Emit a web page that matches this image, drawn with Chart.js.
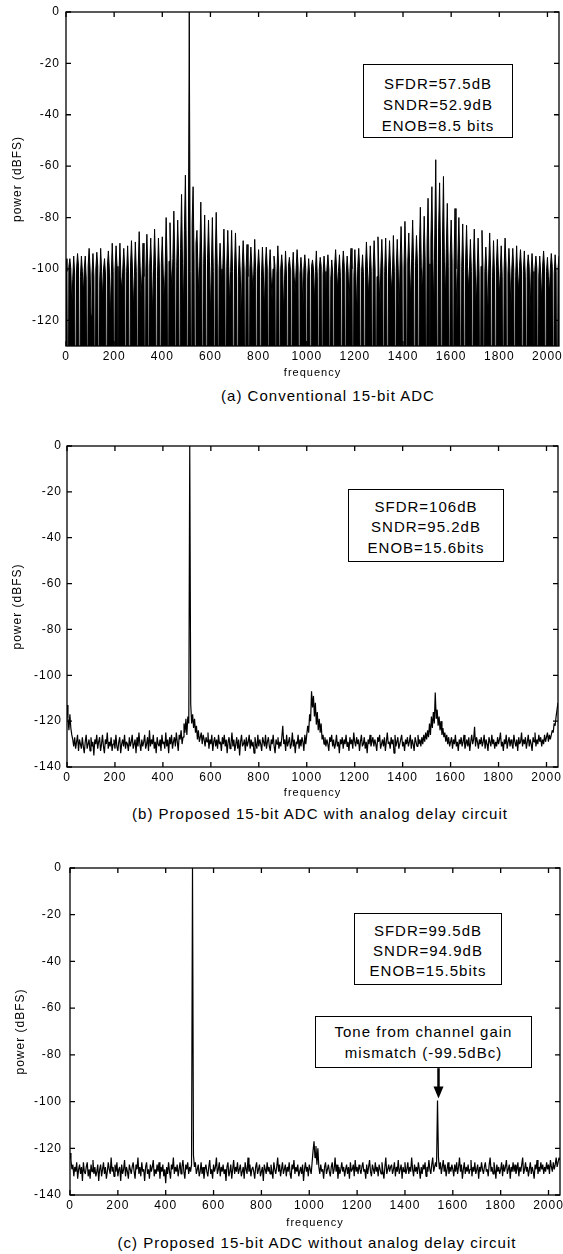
<!DOCTYPE html>
<html>
<head>
<meta charset="utf-8">
<script src="https://cdn.jsdelivr.net/npm/chart.js@4.4.1/dist/chart.umd.min.js"></script>
<style>
  body { margin: 0; background: #fff; color: #000; font-family: "Liberation Sans", Arial, Helvetica, sans-serif; }
  #page { position: relative; width: 563px; height: 1254px; overflow: hidden; background: #fff; }
  canvas { position: absolute; left: 0; }
  .box { position: absolute; box-sizing: border-box; border: 1px solid #000; background: #fff; text-align: center; font-size: 15px; letter-spacing: 1px; white-space: nowrap; }
  .caption { position: absolute; transform: translate(-50%, -50%); font-size: 15px; letter-spacing: 1px; white-space: nowrap; }
</style>
</head>
<body>
<div id="page">
  <canvas id="chartA" width="563" height="380" style="top:0px"></canvas>
  <canvas id="chartB" width="563" height="370" style="top:430px"></canvas>
  <canvas id="chartC" width="563" height="380" style="top:850px"></canvas>

  <div class="box" style="left:363px;top:64px;width:150px;height:74px;padding-top:8px;line-height:21px">SFDR=57.5dB<br>SNDR=52.9dB<br>ENOB=8.5 bits</div>
  <div class="box" style="left:348px;top:489px;width:156px;height:73px;padding-top:6.5px;line-height:20.5px">SFDR=106dB<br>SNDR=95.2dB<br>ENOB=15.6bits</div>
  <div class="box" style="left:354px;top:913px;width:148px;height:72px;padding-top:7px;line-height:19.8px">SFDR=99.5dB<br>SNDR=94.9dB<br>ENOB=15.5bits</div>
  <div class="box" style="left:315px;top:1016px;width:217px;height:52px;padding-top:5.4px;line-height:20.6px">Tone from channel gain<br>mismatch (-99.5dBc)</div>

  <div class="caption" style="left:328px;top:395px">(a) Conventional 15-bit ADC</div>
  <div class="caption" style="left:320px;top:813px">(b) Proposed 15-bit ADC with analog delay circuit</div>
  <div class="caption" style="left:317px;top:1242px">(c) Proposed 15-bit ADC without analog delay circuit</div>
</div>
<script>
// FFT bins are read every 4 frequency units, 0..2048
const binStep = 4;
const freqTicks = [0, 200, 400, 600, 800, 1000, 1200, 1400, 1600, 1800, 2000];
const powerTicksA = [0, -20, -40, -60, -80, -100, -120];
const powerTicksBC = [0, -20, -40, -60, -80, -100, -120, -140];

// (a) conventional ADC, dBFS (values below -130 fall off the axis)
const powerA = [
  -96,-101,-200,-99, -96,-100,-115,-104, -95,-102,-200,-100, -94,-99,-200,-103,
  -95,-101,-110,-100, -95,-104,-200,-99, -92,-100,-118,-102, -94,-103,-200,-100,
  -93.5,-99,-200,-105, -92,-101,-112,-100, -96,-102,-200,-99, -93,-100,-120,-103,
  -90,-101,-200,-100, -91,-99,-200,-102, -90,-103,-109,-100, -92,-100,-200,-101,
  -91,-102,-200,-99, -89,-100,-116,-103, -89.5,-101,-200,-100, -85.5,-99,-111,-102,
  -90,-103,-200,-100, -86.5,-100,-200,-98, -88,-101,-119,-100, -84.5,-99,-200,-103,
  -88,-100,-200,-98, -87.5,-102,-113,-100, -80,-98,-200,-97, -82,-100,-108,-96,
  -77.5,-97,-200,-99, -81,-96,-200,-92, -71,-98,-117,-85, -63.5,-95,-200,-100,
  0,-101,-200,-82, -68,-96,-200,-90, -85,-99,-112,-95, -74,-97,-200,-98,
  -79,-100,-200,-96, -81,-97,-119,-99, -80,-101,-200,-97, -78,-98,-200,-100,
  -90,-100,-110,-98, -84.5,-102,-200,-99, -85,-99,-115,-101, -85,-101,-200,-100,
  -86,-100,-200,-103, -91,-102,-121,-99, -89,-100,-200,-101, -90.5,-103,-200,-100,
  -91.5,-99,-109,-102, -88.5,-101,-200,-100, -92.5,-100,-200,-103, -91.5,-102,-117,-99,
  -91.5,-100,-200,-101, -92.5,-103,-112,-100, -95,-99,-200,-102, -91,-101,-200,-100,
  -94.5,-100,-118,-104, -93,-102,-200,-99, -95.5,-100,-200,-101, -93.5,-103,-110,-100,
  -92.5,-99,-200,-102, -95.5,-101,-116,-100, -94.5,-100,-200,-103, -96,-102,-200,-99,
  -96.5,-100,-113,-101, -93,-103,-200,-100, -95.5,-99,-200,-102, -95,-101,-120,-100,
  -94.5,-100,-200,-104, -96.5,-102,-200,-99, -92.5,-100,-108,-101, -94.5,-103,-200,-100,
  -93,-99,-200,-102, -95,-101,-115,-100, -92,-100,-200,-103, -92.5,-102,-119,-99,
  -92,-100,-200,-101, -94.5,-103,-200,-100, -89.5,-99,-111,-102, -91,-101,-200,-100,
  -89,-100,-200,-103, -87.5,-102,-116,-99, -88.5,-100,-200,-101, -88,-103,-200,-100,
  -89,-99,-109,-102, -87,-101,-200,-100, -88.5,-100,-118,-97, -83.5,-99,-200,-100,
  -81.5,-98,-200,-97, -86,-100,-113,-96, -81,-97,-200,-99, -87,-98,-200,-94,
  -76,-99,-110,-96, -79.5,-97,-200,-90, -72.5,-98,-200,-88, -68,-96,-117,-86,
  -57.5,-98,-200,-84, -66.5,-95,-200,-88, -64,-97,-112,-92, -74.5,-99,-200,-95,
  -81,-97,-200,-98, -76.5,-100,-119,-96, -80,-98,-200,-99, -82.5,-101,-200,-97,
  -83,-99,-108,-100, -88.5,-101,-200,-98, -84.5,-100,-115,-102, -88,-102,-200,-99,
  -85,-99,-200,-101, -91.5,-101,-120,-100, -86,-100,-200,-103, -89,-102,-200,-99,
  -88.5,-100,-111,-101, -91,-103,-200,-100, -88,-99,-200,-102, -92,-101,-116,-100,
  -92,-100,-200,-103, -91,-102,-109,-99, -92.5,-100,-200,-101, -93,-103,-200,-100,
  -94.5,-99,-118,-102, -94,-101,-200,-100, -95,-100,-200,-103, -95,-102,-113,-99,
  -93,-100,-200,-101, -95.5,-103,-110,-100, -94,-99,-200,-102, -94.5,-101,-200,-100,
  -95
];

// (b) with analog delay circuit, dBFS
const powerB = [
  -113,-119,-124,-117,-123,-126,-128,-131,-127,-132,-129,-126,-133,-128,-130,-132,
  -127,-131,-134,-129,-126,-132,-130,-128,-133,-127,-131,-129,-135,-128,-130,-126,
  -132,-129,-127,-133,-130,-126,-131,-134,-128,-130,-125,-132,-129,-131,-127,-133,
  -130,-128,-132,-126,-131,-133,-129,-127,-134,-130,-128,-131,-126,-132,-129,-130,
  -133,-127,-131,-129,-126,-132,-130,-128,-134,-127,-131,-125,-130,-133,-128,-131,
  -129,-126,-132,-130,-127,-133,-124,-131,-128,-130,-126,-132,-129,-134,-127,-130,
  -131,-128,-133,-126,-130,-129,-132,-125,-131,-128,-134,-127,-130,-126,-132,-129,
  -127,-131,-125,-129,-133,-126,-128,-124,-130,-127,-121,-125,-119,-126,-118,-121,
  0,-112.5,-121,-117,-123,-119,-125,-122,-128,-124,-129,-127,-125,-130,-126,-128,
  -131,-127,-129,-125,-132,-128,-130,-126,-133,-129,-127,-131,-128,-132,-126,-130,
  -129,-133,-127,-130,-126,-131,-128,-134,-129,-127,-132,-130,-125,-131,-128,-133,
  -130,-127,-132,-128,-135,-129,-126,-131,-130,-128,-133,-127,-131,-129,-126,-132,
  -128,-131,-129,-134,-127,-130,-132,-126,-131,-128,-130,-133,-127,-129,-131,-126,
  -132,-129,-127,-131,-133,-128,-130,-126,-131,-134,-128,-130,-127,-132,-129,-131,
  -127,-122,-130,-128,-133,-126,-131,-129,-127,-132,-130,-125,-131,-128,-134,-129,
  -130,-126,-132,-128,-131,-127,-129,-133,-126,-130,-126,-122,-125,-117,-120,-107,
  -114,-109,-118,-112,-121.5,-116,-124,-119,-125,-121,-128,-126,-130,-127,-131,-128,
  -130,-133,-127,-129,-126,-131,-128,-132,-130,-126,-131,-129,-134,-128,-130,-127,
  -132,-128,-130,-126,-131,-129,-133,-127,-130,-128,-132,-125,-129,-131,-127,-130,
  -128,-133,-129,-126,-131,-130,-127,-132,-129,-134,-128,-130,-126,-131,-129,-127,
  -131,-128,-130,-133,-127,-129,-126,-132,-130,-128,-131,-127,-133,-129,-125,-130,
  -129,-132,-127,-130,-128,-134,-126,-131,-129,-127,-132,-130,-128,-126,-131,-129,
  -133,-128,-130,-127,-131,-129,-126,-132,-128,-130,-133,-127,-129,-131,-126,-130,
  -128,-131,-127,-130,-126,-129,-125,-128,-124,-127,-121,-126,-118,-123,-116,-121,
  -107.5,-119,-115,-122,-118,-124,-120,-126,-123,-127,-125,-129,-126,-130,-127,-131,
  -129,-127,-132,-128,-130,-126,-131,-129,-133,-128,-130,-127,-131,-129,-126,-132,
  -130,-128,-131,-127,-133,-129,-126,-130,-128,-122.5,-131,-127,-129,-132,-128,-130,
  -127,-131,-129,-126,-132,-128,-130,-133,-127,-129,-131,-126,-130,-128,-132,-129,
  -131,-127,-130,-128,-125,-131,-129,-133,-128,-130,-126,-132,-129,-127,-131,-128,
  -130,-132,-126,-129,-131,-128,-133,-127,-130,-129,-125,-131,-128,-130,-127,-132,
  -129,-126,-131,-128,-130,-133,-127,-129,-125,-131,-128,-130,-126,-129,-127,-131,
  -128,-130,-126,-129,-127,-125,-129,-126,-128,-126,-124,-125,-121,-122,-118,-115,
  -112
];

// (c) without analog delay circuit, dBFS
const powerC = [
  -122,-125,-129,-127,-132,-128,-130,-126,-133,-129,-127,-131,-128,-134,-126,-130,
  -131,-128,-126,-132,-129,-133,-127,-130,-125,-131,-128,-132,-130,-127,-134,-129,
  -127,-132,-129,-126,-131,-128,-133,-130,-126,-129,-131,-124,-130,-128,-132,-127,
  -130,-126,-132,-129,-128,-134,-127,-131,-129,-125,-132,-128,-130,-133,-127,-129,
  -131,-128,-126,-130,-133,-127,-129,-124,-131,-128,-132,-126,-130,-129,-134,-128,
  -126,-131,-129,-133,-127,-130,-128,-125,-132,-129,-131,-127,-130,-126,-133,-128,
  -130,-127,-132,-129,-135,-128,-131,-126,-130,-133,-127,-129,-124,-131,-128,-130,
  -127,-132,-129,-126,-131,-128,-125,-130,-133,-127,-129,-126,-131,-128,-130,-127,
  0,-123,-128,-126,-131,-129,-127,-132,-130,-126,-131,-128,-133,-129,-127,-130,
  -132,-128,-125,-131,-129,-133,-127,-130,-128,-124,-131,-129,-126,-132,-128,-130,
  -127,-131,-129,-134,-128,-126,-132,-130,-127,-133,-129,-125,-131,-128,-130,-126,
  -131,-129,-127,-132,-130,-128,-133,-126,-129,-131,-124,-130,-127,-132,-129,-128,
  -130,-133,-128,-126,-131,-129,-127,-132,-130,-128,-134,-127,-129,-131,-126,-130,
  -128,-131,-127,-130,-133,-126,-129,-131,-128,-124,-130,-127,-132,-129,-126,-131,
  -129,-127,-132,-128,-130,-126,-131,-133,-127,-129,-125,-131,-128,-130,-127,-132,
  -130,-128,-131,-127,-134,-129,-126,-130,-128,-132,-127,-129,-131,-126,-121,-117,
  -124,-119,-127,-120,-128,-131,-127,-130,-129,-133,-128,-126,-131,-129,-127,-130,
  -132,-128,-126,-131,-129,-124,-130,-127,-133,-128,-131,-129,-126,-130,-128,-132,
  -129,-127,-131,-128,-133,-126,-130,-129,-127,-132,-125,-130,-128,-131,-127,-129,
  -131,-128,-126,-130,-129,-133,-127,-131,-128,-125,-130,-132,-127,-129,-131,-126,
  -130,-128,-132,-127,-129,-131,-126,-130,-133,-128,-124,-131,-129,-127,-130,-128,
  -127,-131,-129,-126,-132,-128,-130,-125,-131,-129,-127,-133,-128,-130,-126,-131,
  -129,-126,-131,-128,-130,-124,-129,-132,-127,-130,-128,-131,-126,-129,-133,-128,
  -131,-127,-129,-126,-132,-128,-130,-125,-129,-131,-127,-124,-130,-128,-126,-128,
  -99.5,-124,-129,-126,-131,-128,-125,-130,-127,-132,-129,-126,-131,-128,-130,-127,
  -129,-132,-127,-130,-126,-131,-128,-124,-130,-127,-133,-129,-126,-131,-128,-130,
  -127,-131,-129,-125,-132,-128,-130,-126,-131,-129,-127,-133,-128,-130,-126,-129,
  -131,-128,-126,-130,-129,-132,-127,-124,-130,-128,-131,-126,-129,-133,-127,-130,
  -128,-131,-129,-126,-132,-127,-130,-128,-125,-131,-129,-127,-133,-128,-130,-126,
  -130,-127,-131,-129,-126,-132,-128,-130,-127,-124,-131,-129,-126,-130,-128,-132,
  -129,-126,-131,-128,-130,-133,-127,-129,-125,-131,-128,-130,-126,-129,-127,-131,
  -128,-130,-126,-129,-127,-131,-125,-128,-130,-126,-129,-127,-124,-128,-126,-124,
  -125
];

// gain-mismatch tone pointed at by the arrow in (c)
const mismatchTone = { freq: 1536, level: -99.5, arrowFrom: -85.7 };

Chart.defaults.font.family = '"Liberation Sans", Arial, Helvetica, sans-serif';
Chart.defaults.color = '#000';

// matlab style box with inward ticks on all four sides
const framePlugin = {
  id: 'frame',
  beforeDraw(chart) {
    chart.ctx.letterSpacing = '1px';
  },
  afterDatasetsDraw(chart) {
    const { ctx, chartArea: a, scales: { x, y } } = chart;
    ctx.save();
    ctx.strokeStyle = '#000';
    ctx.lineWidth = 1.3;
    ctx.strokeRect(a.left, a.top, a.right - a.left, a.bottom - a.top);
    ctx.beginPath();
    x.ticks.forEach(t => {
      const px = x.getPixelForValue(t.value);
      ctx.moveTo(px, a.top); ctx.lineTo(px, a.top + 5);
      ctx.moveTo(px, a.bottom); ctx.lineTo(px, a.bottom - 5);
    });
    y.ticks.forEach(t => {
      const py = y.getPixelForValue(t.value);
      ctx.moveTo(a.left, py); ctx.lineTo(a.left + 5, py);
      ctx.moveTo(a.right, py); ctx.lineTo(a.right - 5, py);
    });
    ctx.stroke();
    ctx.restore();
  }
};

const arrowPlugin = {
  id: 'toneArrow',
  afterDatasetsDraw(chart) {
    const { ctx, scales: { x, y } } = chart;
    const px = x.getPixelForValue(mismatchTone.freq) + 1;
    const y0 = y.getPixelForValue(mismatchTone.arrowFrom);
    const tip = y.getPixelForValue(mismatchTone.level) - 2;
    ctx.save();
    ctx.strokeStyle = '#000';
    ctx.fillStyle = '#000';
    ctx.lineWidth = 2.5;
    ctx.beginPath();
    ctx.moveTo(px, y0);
    ctx.lineTo(px, tip - 10);
    ctx.stroke();
    ctx.beginPath();
    ctx.moveTo(px - 5, tip - 12);
    ctx.lineTo(px + 5, tip - 12);
    ctx.lineTo(px, tip);
    ctx.closePath();
    ctx.fill();
    ctx.restore();
  }
};

function renderSpectrum(canvasId, values, opt) {
  const points = values.map((v, i) => ({ x: i * binStep, y: v }));

  new Chart(document.getElementById(canvasId), {
    type: 'line',
    plugins: [framePlugin].concat(opt.extraPlugins || []),
    data: {
      datasets: [{
        data: points,
        borderColor: '#000',
        backgroundColor: '#000',
        borderWidth: opt.lineWidth,
        borderJoinStyle: 'bevel',
        fill: opt.filled ? 'start' : false,
        pointRadius: 0,
        tension: 0
      }]
    },
    options: {
      responsive: false,
      animation: false,
      events: [],
      parsing: false,
      layout: { padding: { top: opt.padTop, right: opt.padRight, bottom: 0, left: 0 } },
      plugins: { legend: { display: false }, tooltip: { enabled: false } },
      scales: {
        x: {
          type: 'linear',
          min: 0,
          max: 2048,
          grid: { display: false, drawTicks: false },
          border: { display: false },
          afterBuildTicks: s => { s.ticks = freqTicks.map(v => ({ value: v })); },
          afterFit: s => { s.height = opt.xHeight; s.paddingLeft = 0; s.paddingRight = 0; },
          ticks: { padding: 3, maxRotation: 0, autoSkip: false, font: { size: 12 }, callback: v => String(v) },
          title: { display: true, text: 'frequency', font: { size: 11 }, padding: 0 }
        },
        y: {
          min: opt.yMin,
          max: 0,
          grid: { display: false, drawTicks: false },
          border: { display: false },
          afterBuildTicks: s => { s.ticks = opt.yTicks.map(v => ({ value: v })); },
          afterFit: s => { s.width = opt.yWidth; s.paddingTop = 0; s.paddingBottom = 0; },
          ticks: { padding: opt.yPad, font: { size: 12 }, callback: v => String(v) },
          title: { display: true, text: 'power (dBFS)', font: { size: 12 }, padding: { top: opt.titlePad, bottom: 0 } }
        }
      }
    }
  });
}

document.addEventListener('DOMContentLoaded', () => {
  renderSpectrum('chartA', powerA, {
    filled: true, lineWidth: 1, yMin: -130, yTicks: powerTicksA,
    padTop: 12, padRight: 4, xHeight: 34, yWidth: 66, yPad: 6, titlePad: 10
  });
  renderSpectrum('chartB', powerB, {
    filled: false, lineWidth: 1.2, yMin: -140, yTicks: powerTicksBC,
    padTop: 16, padRight: 5, xHeight: 33, yWidth: 67, yPad: 5, titlePad: 10
  });
  renderSpectrum('chartC', powerC, {
    filled: false, lineWidth: 1.2, yMin: -140, yTicks: powerTicksBC,
    padTop: 18, padRight: 3, xHeight: 35, yWidth: 70, yPad: 8, titlePad: 13,
    extraPlugins: [arrowPlugin]
  });
});
</script>
</body>
</html>
